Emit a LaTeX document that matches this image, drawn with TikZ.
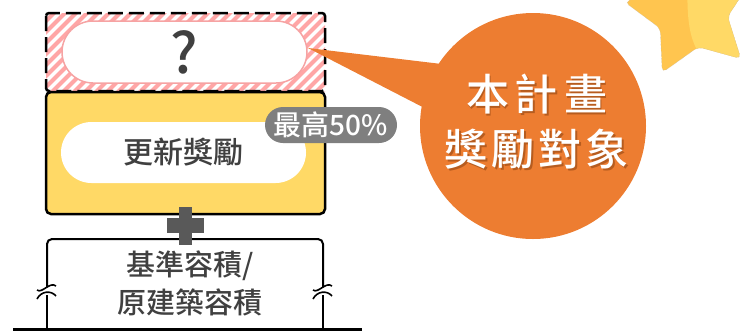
\documentclass[tikz,border=0pt]{standalone}
\usepackage{fontspec}
\setmainfont{Noto Sans CJK TC}[BoldFont={Noto Sans CJK TC Bold}]
\newfontfamily\medfont{Noto Sans CJK TC Medium}
\usetikzlibrary{shapes.misc}
\definecolor{hatchpink}{HTML}{FFA6A6}
\definecolor{pillpink}{HTML}{F6A3A3}
\definecolor{darktext}{HTML}{404040}
\definecolor{boxyellow}{HTML}{FFD966}
\definecolor{badgegray}{HTML}{7F7F7F}
\definecolor{plusgray}{HTML}{595959}
\definecolor{orangeC}{HTML}{ED7D31}
\definecolor{shadowc}{HTML}{8A4212}
\definecolor{starA}{HTML}{FFC54F}
\definecolor{starB}{HTML}{FFD966}
\tikzset{
  pill/.style={rounded rectangle, inner sep=0pt, fill=white},
  darklabel/.style={text=darktext, inner sep=0pt},
  bigtext/.style={text=white, inner sep=0pt, font=\fontsize{43pt}{43pt}\selectfont\medfont},
  shadowtext/.style={text=shadowc, opacity=0.55, inner sep=0pt, font=\fontsize{43pt}{43pt}\selectfont\medfont},
  thickframe/.style={line width=2.5pt},
}
\begin{document}
\begin{tikzpicture}[x=1pt,y=-1pt]
\useasboundingbox (0,0) rectangle (752,333);

% star (partly out of frame)
\begin{scope}[shift={(692,11.5)}]
  \def\starpath{(-100:68) -- (-64:36) -- (-28:68) -- (8:36) -- (44:68) -- (80:36) -- (116:68) -- (152:36) -- (188:68) -- (224:36) -- cycle}
  \fill[starA, rounded corners=5pt] \starpath;
  \begin{scope}
    \clip[rounded corners=5pt] \starpath;
    \fill[starB] (6,40) .. controls (-3,25) and (-6,5) .. (-4,-40) -- (80,-40) -- (80,80) -- (6,80) -- cycle;
  \end{scope}
  \draw[gray!55, line width=0.4pt, densely dotted, rounded corners=5pt] \starpath;
\end{scope}

% hatched box
\begin{scope}
  \clip (46,13) rectangle (325,91);
  \foreach \i in {-110,-99,...,330} \draw[hatchpink, line width=4pt] (\i,100) -- ++(100,-100);
\end{scope}
\node[pill, draw=pillpink, line width=1.5pt, minimum width=245pt, minimum height=62pt] (qpill) at (184.5,52) {};
\node[darklabel, font=\fontsize{56pt}{56pt}\selectfont\medfont] (q) at (184,52) {?};
\draw[black, line width=2.5pt, dash pattern=on 15pt off 6pt, rounded corners=3pt] (46,13) rectangle (325,91);

% yellow box
\node[draw=black, thickframe, fill=boxyellow, rounded corners=5pt, minimum width=279pt, minimum height=122pt, inner sep=0pt] (ybox) at (185.5,153) {};
\node[pill, minimum width=245pt, minimum height=61pt] (gpill) at (183.5,152.5) {};
\node[darklabel, font=\fontsize{30pt}{30pt}\selectfont\medfont] (gtext) at (183,152.5) {更新獎勵};
\node[fill=badgegray, rounded rectangle, inner sep=0pt, minimum width=132pt, minimum height=36pt, text=white, font=\fontsize{28pt}{28pt}\selectfont\medfont] (badge) at (331,125) {最高50\%};

% bottom box
\draw[line width=2pt, rounded corners=5pt] (47,287) -- (47,239) -- (323,239) -- (323,287);
\draw[line width=2pt] (47,295) -- (47,329);
\draw[line width=2pt] (323,295) -- (323,329);
\foreach \xx in {47,323} {
  \draw[line width=1.6pt] (\xx-10,290) .. controls (\xx-5,294) and (\xx+3,281) .. (\xx+9,286);
  \draw[line width=1.6pt] (\xx-10,299) .. controls (\xx-6,291) and (\xx+4,290) .. (\xx+9,296);
}
\draw[line width=3pt] (13,329) -- (362,329);
\node[darklabel, font=\fontsize{29pt}{29pt}\selectfont\medfont] (b1) at (190,266) {基準容積/};
\node[darklabel, font=\fontsize{29pt}{29pt}\selectfont\medfont] (b2) at (190,302) {原建築容積};

% plus sign
\fill[plusgray] (179,207) rectangle (192,245);
\fill[plusgray] (167,218) rectangle (204,233);

% orange callout
\node[circle, fill=orangeC, minimum size=226pt, inner sep=0pt] (oc) at (533,126) {};
\coordinate (tip) at (308,48);
\fill[orangeC] (tip) -- (450,65) -- (440,116) -- cycle;
\node[shadowtext] at (538,96) {本\hspace{6pt}計\hspace{6pt}畫};
\node[shadowtext] at (538,151) {獎\hspace{4pt}勵\hspace{4pt}對\hspace{4pt}象};
\node[bigtext] (t1) at (536.5,94.5) {本\hspace{6pt}計\hspace{6pt}畫};
\node[bigtext] (t2) at (536.5,149.5) {獎\hspace{4pt}勵\hspace{4pt}對\hspace{4pt}象};
\end{tikzpicture}
\end{document}
